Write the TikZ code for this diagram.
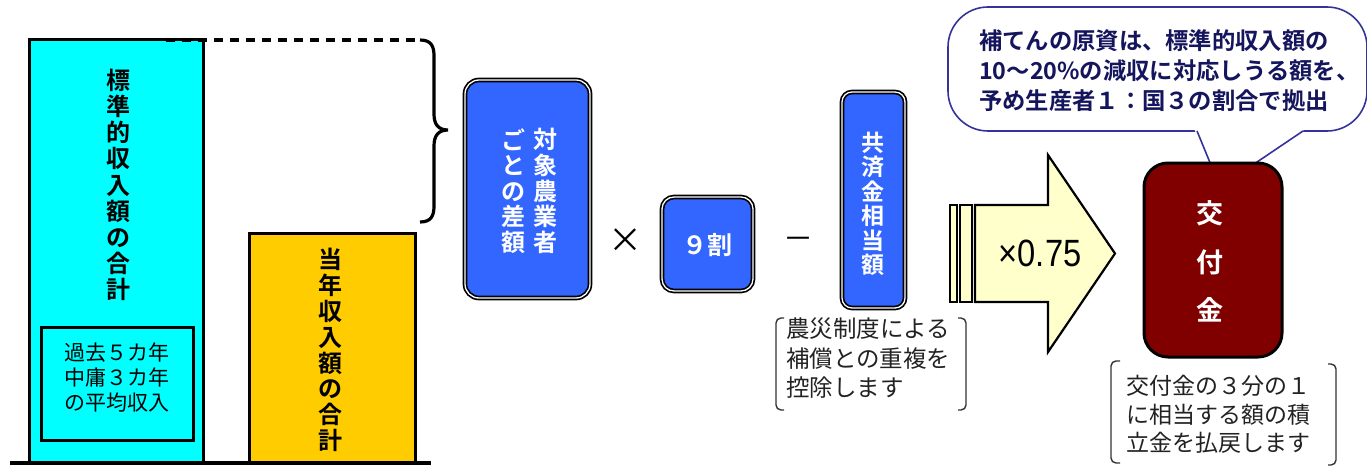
\documentclass[tikz,border=0pt]{standalone}
\usepackage{fontspec}
\setmainfont{Noto Sans CJK JP}[BoldFont={Noto Sans CJK JP Bold}]
\newfontfamily\arialf{Liberation Sans}
\definecolor{cyanfill}{HTML}{00FFFF}
\definecolor{orangefill}{HTML}{FFCC00}
\definecolor{bluefill}{HTML}{3366FF}
\definecolor{redfill}{HTML}{800000}
\definecolor{arrowfill}{HTML}{FFFFCC}
\definecolor{navy}{HTML}{333399}
\definecolor{navytext}{HTML}{15155E}
\definecolor{notetext}{HTML}{222222}
\begin{document}
\begin{tikzpicture}[x=1pt,y=-1pt,
  bar/.style={draw=black, line width=3pt},
  vtext/.style={align=center, inner sep=0pt, font=\bfseries\fontsize{24}{26.2}\selectfont},
  wtext/.style={vtext, text=white},
  bluebox/.style={draw=black, line width=1.7pt, double=white, double distance=1.3pt, fill=bluefill, rounded corners=14pt},
  bracketline/.style={draw=black!80, line width=1.4pt, rounded corners=5pt},
  notetxt/.style={align=left, inner sep=0pt, text=notetext, font=\fontsize{23.5}{29.3}\selectfont, anchor=north west},
  callout/.style={draw=navy, line width=1.6pt, fill=white}
]
\useasboundingbox (0,0) rectangle (1367,468);

% left bars
\draw[bar, fill=cyanfill] (29,40) rectangle (203,462);
\draw[bar, fill=orangefill] (249,233) rectangle (415,462);
\draw[line width=3.5pt] (10,463) -- (431,463);
\draw[bar, fill=cyanfill] (41,327) rectangle (193,440);
\node[vtext] (std) at (118,185) {標\\準\\的\\収\\入\\額\\の\\合\\計};
\node[align=center, inner sep=0pt, font=\fontsize{21}{25}\selectfont] (past) at (117,378) {過去５カ年\\中庸３カ年\\の平均収入};
\node[vtext, font=\bfseries\fontsize{24}{25.8}\selectfont] (cur) at (330,350) {当\\年\\収\\入\\額\\の\\合\\計};

% dashed line and brace
\draw[line width=3.2pt, dash pattern=on 9pt off 7pt] (166,40) -- (420,40);
\draw[line width=3.2pt] (420,40) .. controls (431,40) and (434,46) .. (434,56) -- (434,114)
  .. controls (434,124) and (438,130) .. (448,130)
  .. controls (438,130) and (434,136) .. (434,146) -- (434,206)
  .. controls (434,216) and (431,222) .. (420,222);

% blue boxes
\draw[bluebox] (465,80) rectangle (590,298);
\node[wtext, font=\bfseries\fontsize{24}{25.6}\selectfont] (tai) at (545,191) {対\\象\\農\\業\\者};
\node[wtext, font=\bfseries\fontsize{24}{25.6}\selectfont] (goto) at (513,191) {ご\\と\\の\\差\\額};
\node[inner sep=0pt, font=\fontsize{34}{34}\selectfont] (times) at (625,241) {×};
\draw[bluebox, rounded corners=12pt] (662,197) rectangle (753,291);
\node[wtext, font=\bfseries\fontsize{25}{26}\selectfont] (nine) at (707,245) {９割};
\node[inner sep=0pt, font=\fontsize{30}{30}\selectfont] (minus) at (798,243) {－};
\draw[bluebox, rounded corners=10pt] (842,92) rectangle (905,308);
\node[wtext, font=\bfseries\fontsize{23}{24.5}\selectfont] (kyo) at (873,204) {共\\済\\金\\相\\当\\額};

% note 1
\draw[bracketline] (784,318) -- (776,318) -- (776,410) -- (784,410);
\draw[bracketline] (958,318) -- (966,318) -- (966,410) -- (958,410);
\node[notetxt] (note1) at (786,318) {農災制度による\\補償との重複を\\控除します};

% arrow
\draw[line width=2pt, fill=arrowfill] (950,205) rectangle (957,302);
\draw[line width=2pt, fill=arrowfill] (960,205) rectangle (972,302);
\draw[line width=2.2pt, fill=arrowfill, line join=miter] (975,205) -- (1048,205) -- (1048,155) -- (1115,253.5) -- (1048,352) -- (1048,302) -- (975,302) -- cycle;
\node[inner sep=0pt, font=\arialf\fontsize{38}{38}\selectfont] (rate) at (1040,253) {\scalebox{0.86}[1]{×0.75}};

% callout
\draw[callout, rounded corners=40pt] (948,7) rectangle (1367,131);
\fill[white] (1194,128.6) -- (1220,187) -- (1306,128.6) -- cycle;
\draw[navy, line width=1.6pt, line join=miter] (1197,131) -- (1220,187) -- (1303,131);
\node[anchor=north west, align=left, inner sep=0pt, text=navytext, font=\bfseries\fontsize{23.3}{30}\selectfont] (co) at (979,29) {補てんの原資は、標準的収入額の\\10～20\%の減収に対応しうる額を、\\予め生産者１：国３の割合で拠出};

% red box
\draw[line width=3pt, fill=redfill, rounded corners=24pt] (1144,163) rectangle (1282,357);
\node[text=white, inner sep=0pt, font=\bfseries\fontsize{27}{27}\selectfont] (k1) at (1210,213) {交};
\node[text=white, inner sep=0pt, font=\bfseries\fontsize{27}{27}\selectfont] (k2) at (1210,262) {付};
\node[text=white, inner sep=0pt, font=\bfseries\fontsize{27}{27}\selectfont] (k3) at (1210,310) {金};

% note 2
\draw[bracketline] (1120,361) -- (1111,361) -- (1111,463) -- (1120,463);
\draw[bracketline] (1328,364) -- (1336,364) -- (1336,465) -- (1328,465);
\node[notetxt, font=\fontsize{23}{28.5}\selectfont] (note2) at (1126,375) {交付金の３分の１\\に相当する額の積\\立金を払戻します};
\end{tikzpicture}
\end{document}
